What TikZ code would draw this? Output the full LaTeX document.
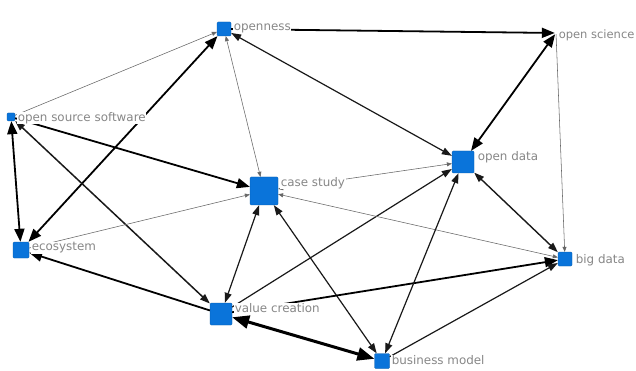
\documentclass[tikz,border=0pt]{standalone}
\usepackage{fontspec}
\setmainfont{DejaVu Sans}
\usetikzlibrary{arrows.meta}
\definecolor{nodeblue}{RGB}{10,116,218}
\definecolor{labgray}{RGB}{135,135,135}
\begin{document}
\begin{tikzpicture}[x=1pt,y=-1pt,
  sq/.style={rectangle,fill=nodeblue,draw=nodeblue!75!black,line width=0.3pt,rounded corners=1pt,inner sep=0pt,minimum width=#1,minimum height=#1},
  lab/.style={anchor=west,font=\fontsize{11.9}{12}\selectfont,text=labgray,fill=white,inner sep=0.6pt},
  ethin/.style={draw=black!60,line width=0.55pt,>={Triangle[length=5pt,width=4pt]}},
  emid/.style={draw=black!90,line width=1.2pt,>={Triangle[length=10pt,width=7pt]}},
  ethick/.style={draw=black,line width=1.8pt,>={Triangle[length=13pt,width=10pt]}},
  evthick/.style={draw=black,line width=3pt,>={Triangle[length=17pt,width=13pt]}}]
\useasboundingbox (0,0) rectangle (636,371);
% nodes
\node[sq=14] (opn) at (224,29) {};
\node[inner sep=0pt,minimum size=2pt] (osc) at (556,33) {};
\node[sq=8] (oss) at (11,117) {};
\node[sq=28] (cs) at (264,191) {};
\node[sq=22] (od) at (463,162) {};
\node[sq=16] (eco) at (21,250) {};
\node[sq=22] (vc) at (221,314) {};
\node[sq=14] (bd) at (565,259) {};
\node[sq=15] (bm) at (382,361) {};
% edges
\draw[ethick,->] (opn) -- (osc);
\draw[ethin,->] (oss) -- (opn);
\draw[ethick,<->] (eco) -- (opn);
\draw[ethin,<->] (opn) -- (cs);
\draw[emid,<->] (od) -- (opn);
\draw[ethick,<->] (osc) -- (od);
\draw[ethin,->] (osc) -- (bd);
\draw[ethin,<->] (cs) -- (od);
\draw[ethick,->] (oss) -- (cs);
\draw[ethick,<->] (oss) -- (eco);
\draw[emid,line width=1.5pt,<->] (vc) -- (oss);
\draw[ethin,->] (eco) -- (cs);
\draw[ethick,->] (vc) -- (eco);
\draw[emid,<->] (cs) -- (vc);
\draw[emid,->] (vc) -- (od);
\draw[emid,<->] (cs) -- (bm);
\draw[ethin,<->] (cs) -- (bd);
\draw[ethick,->] (vc) -- (bd);
\draw[evthick,<->] (bm) -- (vc);
\draw[emid,<->] (od) -- (bm);
\draw[emid,line width=1.4pt,<->] (od) -- (bd);
\draw[emid,->] (bm) -- (bd);
% labels
\node[lab] (lopn) at (233,28) {openness};
\node[lab,font=\fontsize{11.5}{12}\selectfont] (losc) at (558,35) {open science};
\node[lab] (loss) at (17,118) {open source software};
\node[lab] (lcs) at (280,183) {case study};
\node[lab] (lod) at (477,157) {open data};
\node[lab] (leco) at (31,248) {ecosystem};
\node[lab] (lvc) at (234,308) {value creation};
\node[lab] (lbd) at (575,260) {big data};
\node[lab] (lbm) at (391,360) {business model};
\end{tikzpicture}
\end{document}
